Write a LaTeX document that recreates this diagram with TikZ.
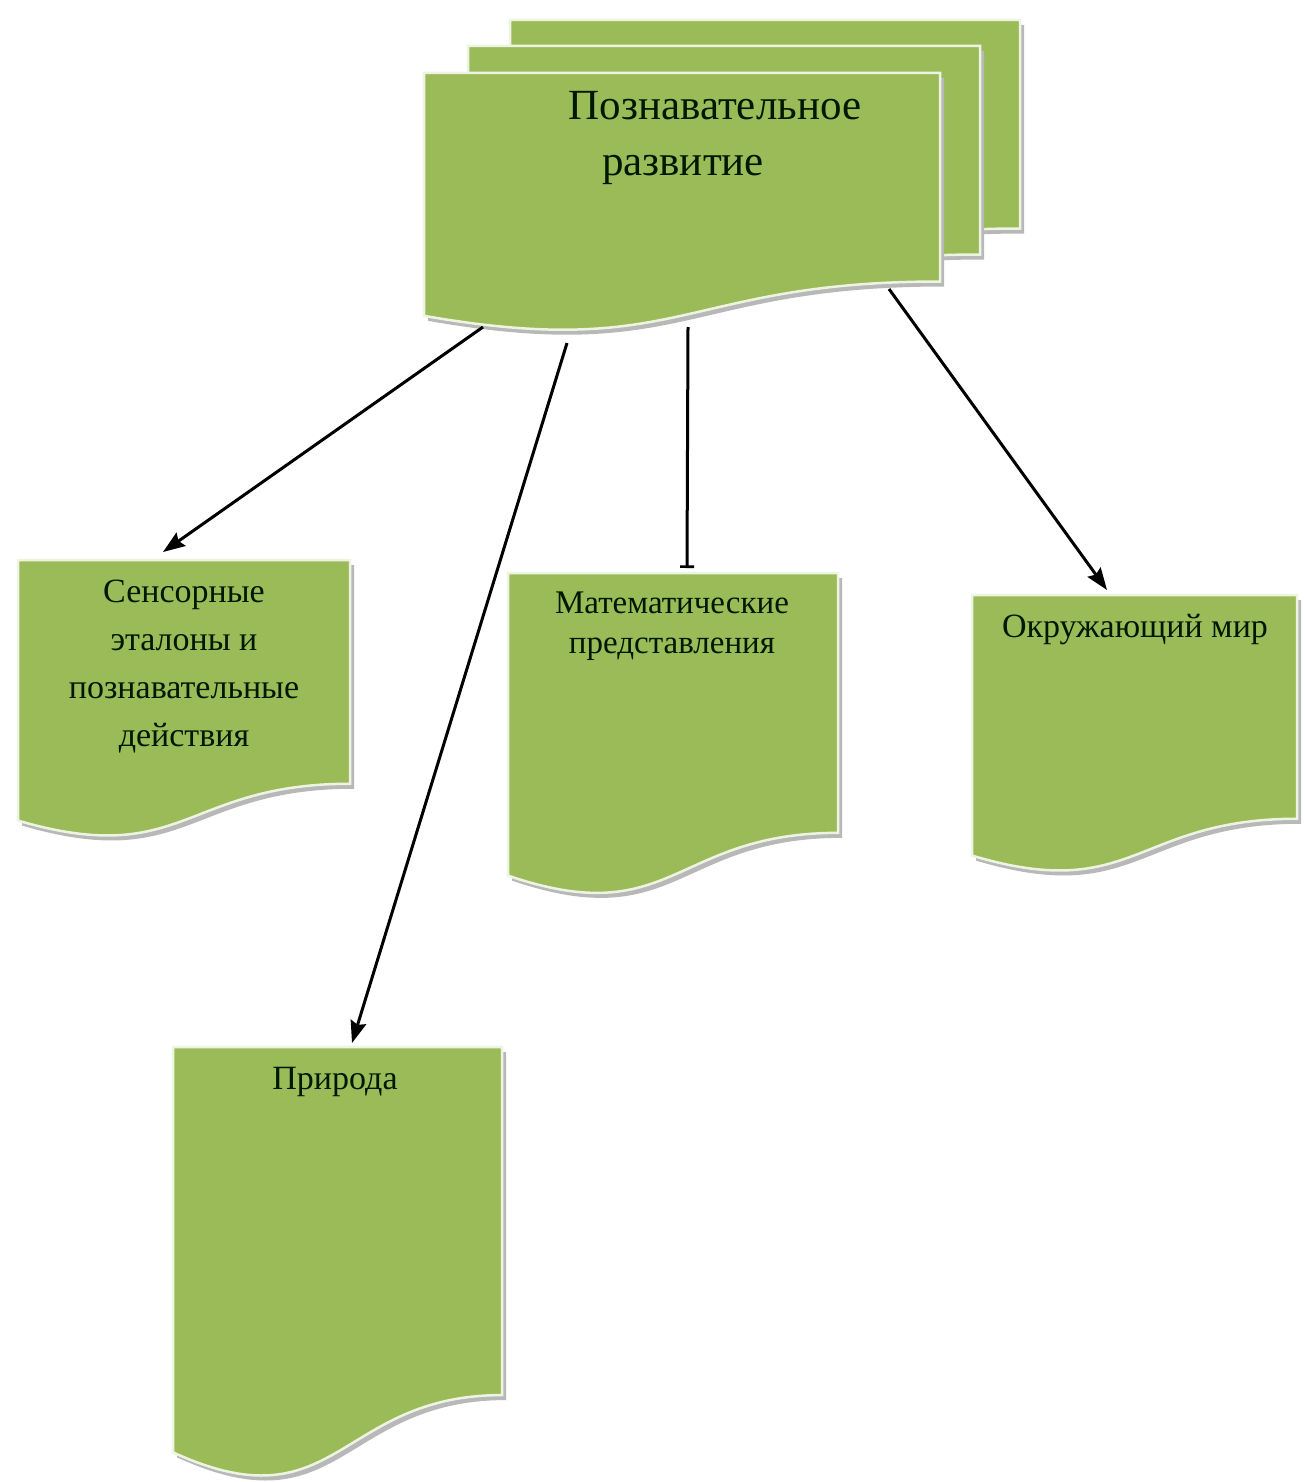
\documentclass[tikz,border=0pt]{standalone}
\usepackage{fontspec}
\setmainfont{Liberation Serif}
\usetikzlibrary{arrows.meta}
\definecolor{docgreen}{HTML}{9BBB59}
\definecolor{docedge}{HTML}{EEF4E2}
\definecolor{shadowgray}{HTML}{B8B8B8}
\newcommand\docpath[4]{(#1,#2) -- ({#1+#3},#2) -- ({#1+#3},{#2+0.802*#4}) .. controls ({#1+#3/2},{#2+0.802*#4}) and ({#1+#3/2},{#2+1.1075*#4}) .. (#1,{#2+0.934*#4}) -- cycle}
\newcommand\mydoc[4]{%
  \fill[shadowgray] \docpath{#1+4}{#2+5}{#3}{#4};
  \filldraw[fill=docgreen, draw=docedge, line width=2.5] \docpath{#1}{#2}{#3}{#4};
}
\tikzset{
  label34/.style={font=\fontsize{34}{48}\selectfont, text=black!90!green, align=center, inner sep=0},
  label43/.style={font=\fontsize{43}{60}\selectfont, text=black!90!green, inner sep=0},
  conn/.style={line width=3, black, -{Stealth[length=22, width=16, inset=3]}},
  barconn/.style={line width=3, black, -{Bar[width=14, line width=2.6]}}
}
\begin{document}
\begin{tikzpicture}[x=1pt, y=-1pt]
\useasboundingbox (0,0) rectangle (1304,1482);
\fill[white] (0,0) rectangle (1304,1482);
% stacked top documents
\mydoc{510}{20}{510}{260}
\mydoc{468}{46}{512}{260}
\mydoc{424}{73}{516}{260}
% lower documents
\mydoc{18}{560}{332}{279}
\mydoc{508}{573}{330}{324}
\mydoc{972}{595}{325}{279}
\mydoc{173}{1047}{329}{434}
% texts
\node[label43] (t1) at (715,106) {Познавательное};
\node[label43] (t2) at (683,170) {развитие};
\node[label34] (sens) at (184,667) {Сенсорные\\эталоны и\\познавательные\\действия};
\node[label34, font=\fontsize{33}{40}\selectfont] (math) at (672,626) {Математические\\представления};
\node[label34] (okr) at (1135,630) {Окружающий мир};
\node[label34] (prir) at (335,1082) {Природа};
% connector end points
\coordinate (s1) at (483,327);
\coordinate (e1) at (163,552);
\coordinate (s2) at (567,343);
\coordinate (e2) at (352,1043);
\coordinate (s3) at (688,327);
\coordinate (e3) at (687,568);
\coordinate (s4) at (889,289);
\coordinate (e4) at (1107,590);
\draw[conn] (s1) -- (e1);
\draw[conn] (s2) -- (e2);
\draw[barconn] (s3) -- (e3);
\draw[conn] (s4) -- (e4);
\end{tikzpicture}
\end{document}
